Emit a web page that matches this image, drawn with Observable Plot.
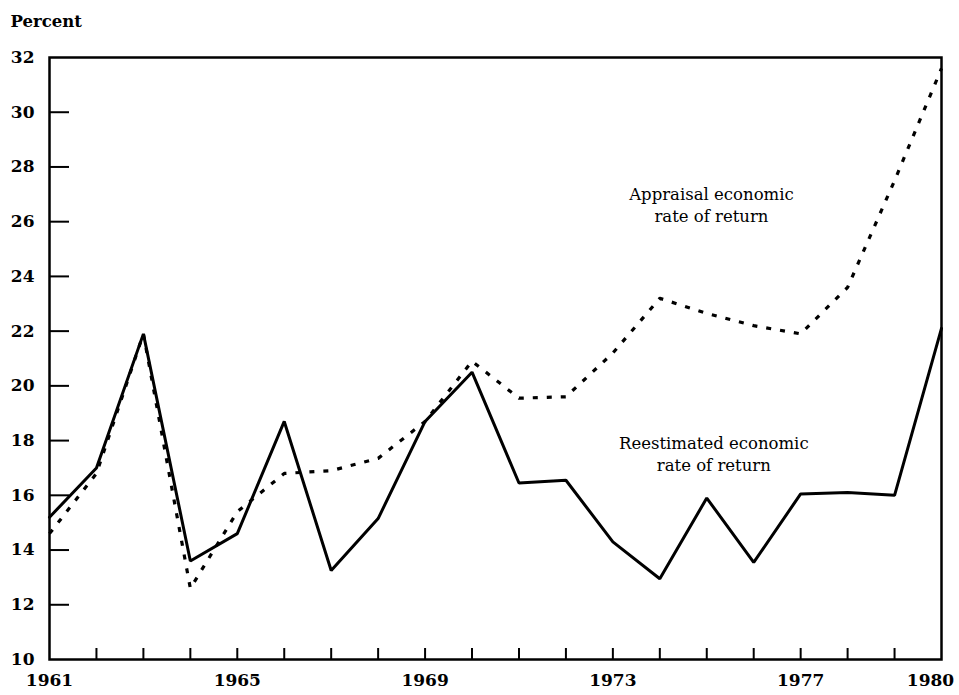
<!DOCTYPE html>
<html>
<head>
<meta charset="utf-8">
<script src="https://cdn.jsdelivr.net/npm/d3@7"></script>
<script src="https://cdn.jsdelivr.net/npm/@observablehq/plot@0.6"></script>
<style>
  html, body { margin: 0; padding: 0; background: #fff; }
</style>
</head>
<body>
<div id="chart"></div>
<script>
const years = [1961,1962,1963,1964,1965,1966,1967,1968,1969,1970,1971,1972,1973,1974,1975,1976,1977,1978,1979,1980];
const reestimated = [15.2,17.0,21.9,13.6,14.6,18.7,13.25,15.15,18.7,20.5,16.45,16.55,14.3,12.95,15.9,13.55,16.05,16.1,16.0,22.1];
const appraisal = [14.6,16.8,21.9,12.6,15.4,16.8,16.9,17.35,18.7,20.9,19.55,19.6,21.2,23.2,22.65,22.2,21.9,23.6,27.5,31.6];
const yTicks = [10,12,14,16,18,20,22,24,26,28,30,32];
const xLabelYears = [1961,1965,1969,1973,1977];
const xLastLabel = [1980];
const labels = [
  {year: 1975.1, value: 26.65, text: "Appraisal economic\nrate of return"},
  {year: 1975.15, value: 17.55, text: "Reestimated economic\nrate of return"}
];

const reRows = years.map((y, i) => ({year: y, value: reestimated[i]}));
const apRows = years.map((y, i) => ({year: y, value: appraisal[i]}));

const serif = "'DejaVu Serif', 'Liberation Serif', serif";

const chart = Plot.plot({
  width: 959,
  height: 695,
  marginLeft: 49,
  marginRight: 18,
  marginTop: 57,
  marginBottom: 36,
  style: {fontFamily: serif, background: "#fff", color: "#000"},
  x: {domain: [1961, 1980], axis: null, label: null},
  y: {domain: [10, 32], axis: null, label: null},
  marks: [
    Plot.axisY(yTicks, {tickSize: 0, tickPadding: 15, fontSize: 17, fontWeight: "bold", fill: "#000", label: null}),
    Plot.axisY(yTicks.slice(1, -1), {tickSize: -20, text: null, stroke: "#000", strokeWidth: 2, label: null}),
    Plot.axisX(years.slice(1, -1), {tickSize: -11, text: null, stroke: "#000", strokeWidth: 2, label: null}),
    Plot.axisX(xLabelYears, {tickSize: 0, tickPadding: 14, tickFormat: d => String(d), fontSize: 17, fontWeight: "bold", fill: "#000", label: null}),
    Plot.axisX(xLastLabel, {tickSize: 0, tickPadding: 14, tickFormat: d => String(d), fontSize: 17, fontWeight: "bold", fill: "#000", dx: -11, label: null}),
    Plot.frame({stroke: "#000", strokeWidth: 2.5}),
    Plot.line(apRows, {x: "year", y: "value", stroke: "#000", strokeWidth: 3.2, strokeDasharray: "5,9", strokeLinecap: "butt"}),
    Plot.line(reRows, {x: "year", y: "value", stroke: "#000", strokeWidth: 3, strokeLinejoin: "miter"}),
    Plot.text(labels, {x: "year", y: "value", text: "text", fontSize: 16.5, fill: "#000", lineHeight: 1.35, textAnchor: "middle"}),
    Plot.text(["Percent"], {frameAnchor: "top-left", dx: -39, dy: -42, textAnchor: "start", fontSize: 16.5, fontWeight: "bold", fill: "#000"})
  ]
});
document.getElementById("chart").appendChild(chart);
</script>
</body>
</html>
